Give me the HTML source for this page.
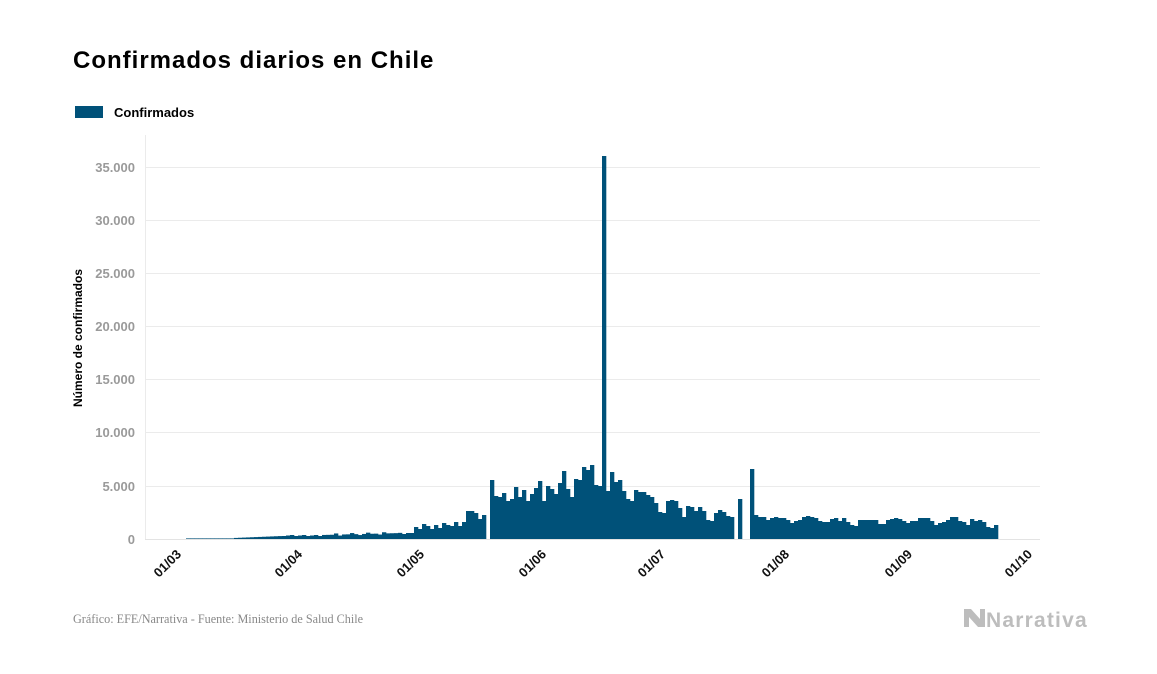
<!DOCTYPE html>
<html><head><meta charset="utf-8"><style>
body{margin:0;background:#fff;}
svg{display:block;font-family:"Liberation Sans",sans-serif;}
</style></head><body>
<svg width="1157" height="674" xmlns="http://www.w3.org/2000/svg" id="s">
<text x="73" y="68" font-size="24" font-weight="bold" fill="#000" letter-spacing="1">Confirmados diarios en Chile</text>
<rect x="75" y="106" width="28" height="12" fill="#005179"/>
<text x="114" y="117" font-size="13" font-weight="bold" fill="#000">Confirmados</text>
<g stroke="#ebebeb" stroke-width="1">
<line x1="145" x2="1040" y1="486.5" y2="486.5"/>
<line x1="145" x2="1040" y1="432.5" y2="432.5"/>
<line x1="145" x2="1040" y1="379.5" y2="379.5"/>
<line x1="145" x2="1040" y1="326.5" y2="326.5"/>
<line x1="145" x2="1040" y1="273.5" y2="273.5"/>
<line x1="145" x2="1040" y1="220.5" y2="220.5"/>
<line x1="145" x2="1040" y1="167.5" y2="167.5"/>
<line x1="145.5" x2="145.5" y1="135" y2="539"/>
</g>
<g font-size="13" font-weight="bold" fill="#9a9a9a" text-anchor="end">
<text x="135" y="544">0</text>
<text x="135" y="491">5.000</text>
<text x="135" y="437">10.000</text>
<text x="135" y="384">15.000</text>
<text x="135" y="331">20.000</text>
<text x="135" y="278">25.000</text>
<text x="135" y="225">30.000</text>
<text x="135" y="172">35.000</text>
</g>
<text transform="translate(82,338) rotate(-90)" font-size="12" font-weight="bold" text-anchor="middle" fill="#000">Número de confirmados</text>
<g id="bars" fill="#005179"></g>
<line x1="145" x2="1040" y1="539.5" y2="539.5" stroke="#e3e3e3"/>
<g font-size="13" font-weight="bold" fill="#111" text-anchor="end">
<text transform="translate(182,555) rotate(-45)">01/03</text>
<text transform="translate(303,555) rotate(-45)">01/04</text>
<text transform="translate(425,555) rotate(-45)">01/05</text>
<text transform="translate(547,555) rotate(-45)">01/06</text>
<text transform="translate(666,555) rotate(-45)">01/07</text>
<text transform="translate(790,555) rotate(-45)">01/08</text>
<text transform="translate(913,555) rotate(-45)">01/09</text>
<text transform="translate(1033,555) rotate(-45)">01/10</text>
</g>
<text x="73" y="623" font-family="Liberation Serif,serif" font-size="12.2" fill="#888">Gráfico: EFE/Narrativa - Fuente: Ministerio de Salud Chile</text>
<path d="M964 609 L971 609 L980 619 L980 609 L985 609 L985 627 L978 627 L969 617 L969 627 L964 627 Z" fill="#bdbdbd"/>
<text x="986" y="627" font-size="21" font-weight="bold" fill="#bdbdbd" letter-spacing="1.2">Narrativa</text>
</svg>
<script>
var g=document.getElementById('bars'),h=[],i;
for(i=0;i<54;i++){var x=186+i*4,v;
 if(x<232)v=0.6;else if(x<280)v=1+(x-232)/24;else if(x<320)v=3+((i%3)*0.5);else v=4+(x-320)/40+((i%4)==1?1.2:0)+((i%5)==3?-1:0);
 h.push(v);}
var a=[5,6,6,12,10,15,13,10,14,11,16,14,13,17,13,17,28,28,26,20,24,0,59,43,42,46,38,40,52,42,49,38,45,51,58,38,53,50,45,56,68,50,42,60,59,72,69,74,54,53,383,
48,67,57,59,48,40,38,49,47,47,44,42,36,27,26,38,39,38,31,22,33,32,28,32,28,19,18,26,29,27,23,22,0,40,0,0,70,24,22,22,19,21,22,21,21,19,16,18,19,22,23,22,21,18,17,17,20,21,18,21,17,14,13,19,19,19,19,19,15,15,19,20,21,20,18,16,18,18,21,21,21,18,14,16,17,19,22,22,18,17,14,20,18,19,17,12,11,14];
var s='';
h.forEach(function(v,k){s+='<rect x="'+(186+k*4)+'" y="'+(539-v)+'" width="4.3" height="'+v+'"/>';});
a.forEach(function(v,k){if(v>0)s+='<rect x="'+(402+k*4)+'" y="'+(539-v)+'" width="4.3" height="'+v+'"/>';});
g.innerHTML=s;
</script>
</body></html>
